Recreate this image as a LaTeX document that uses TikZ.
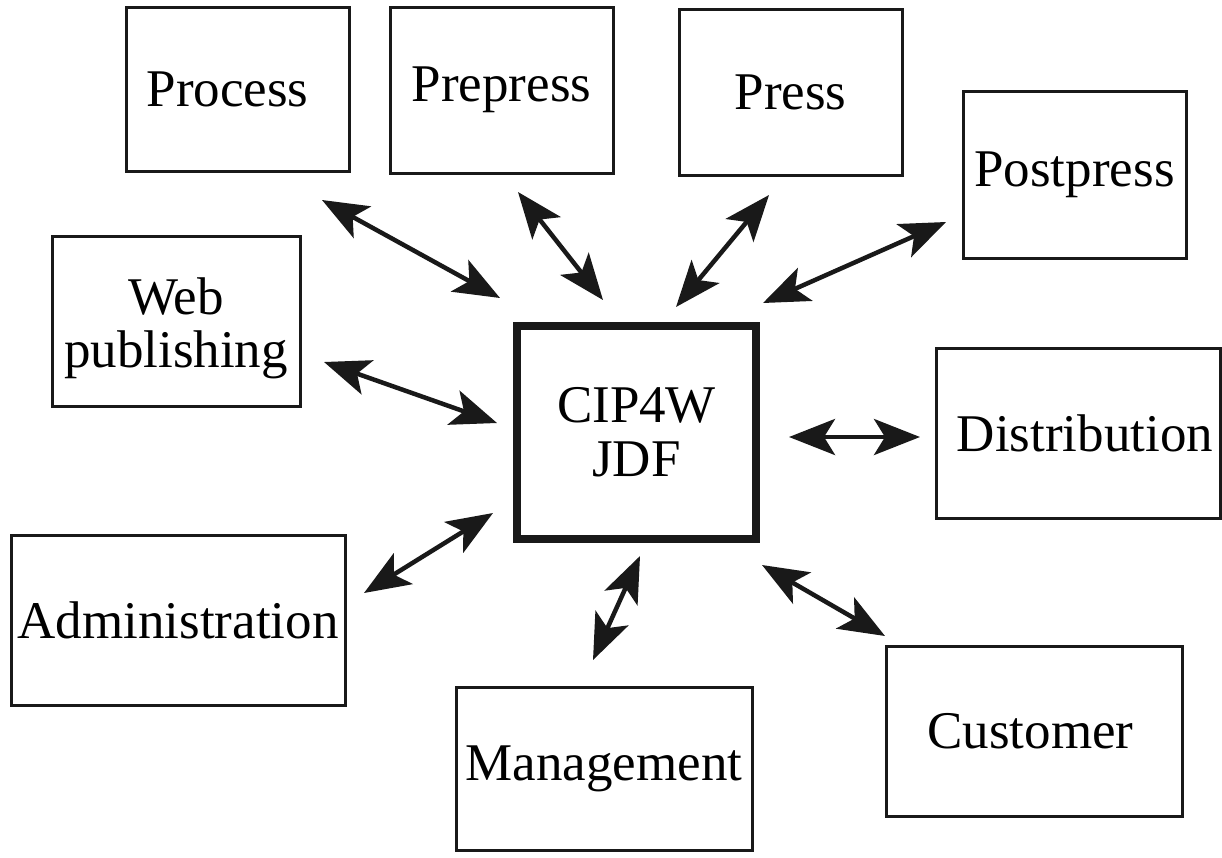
\documentclass[tikz,border=0pt]{standalone}
\usepackage{fontspec}
\setmainfont{Liberation Serif}
\usetikzlibrary{arrows.meta}
\begin{document}
\begin{tikzpicture}[x=1pt,y=-1pt,
  box/.style={draw=black!90,line width=3pt,rectangle,inner sep=0pt,align=center,
    font=\fontsize{53}{54}\selectfont},
  hub/.style={box,line width=8pt},
  link/.style={line width=4.5pt,draw=black!90,{Stealth[length=46pt,width=36pt,inset=11pt]}-{Stealth[length=46pt,width=36pt,inset=11pt]}}]
\useasboundingbox (0,0) rectangle (1222,857);
\node[box,minimum width=223pt,minimum height=164pt] (process) at (237.5,89) {\hspace*{-20pt}Process};
\node[box,minimum width=223pt,minimum height=166pt] (prepress) at (501.5,90) {Prepress};
\node[box,minimum width=223pt,minimum height=166pt] (press) at (790.5,92) {Press};
\node[box,minimum width=223pt,minimum height=167pt] (postpress) at (1074.5,174.5) {Postpress};
\node[box,minimum width=248pt,minimum height=170pt] (web) at (176,321) {\raisebox{-9pt}[\height][\depth]{\begin{tabular}{@{}c@{}}Web\\[-1pt]publishing\end{tabular}}};
\node[hub,minimum width=239pt,minimum height=213pt] (jdf) at (636.5,432.5) {CIP4W\\JDF};
\node[box,minimum width=284pt,minimum height=170pt] (distribution) at (1078,433) {Distribution\hspace*{-14pt}};
\node[box,minimum width=334pt,minimum height=170pt] (administration) at (178,620) {Administration};
\node[box,minimum width=296pt,minimum height=163pt] (management) at (604,768.5) {Management};
\node[box,minimum width=296pt,minimum height=170pt] (customer) at (1034,731) {\hspace*{-7pt}Customer};
% arrow end points
\coordinate (a1) at (322,200); \coordinate (b1) at (500,298);
\coordinate (a2) at (518,192); \coordinate (b2) at (603,300);
\coordinate (a3) at (769,195); \coordinate (b3) at (676,307);
\coordinate (a4) at (946,222); \coordinate (b4) at (763,303);
\coordinate (a5) at (324,362); \coordinate (b5) at (497,423);
\coordinate (a6) at (920,437); \coordinate (b6) at (789,437);
\coordinate (a7) at (364,593); \coordinate (b7) at (493,513);
\coordinate (a8) at (593,660); \coordinate (b8) at (640,556);
\coordinate (a9) at (885,636); \coordinate (b9) at (762,565);
\foreach \i in {1,...,9} {\draw[link] (a\i) -- (b\i);}
\end{tikzpicture}
\end{document}
